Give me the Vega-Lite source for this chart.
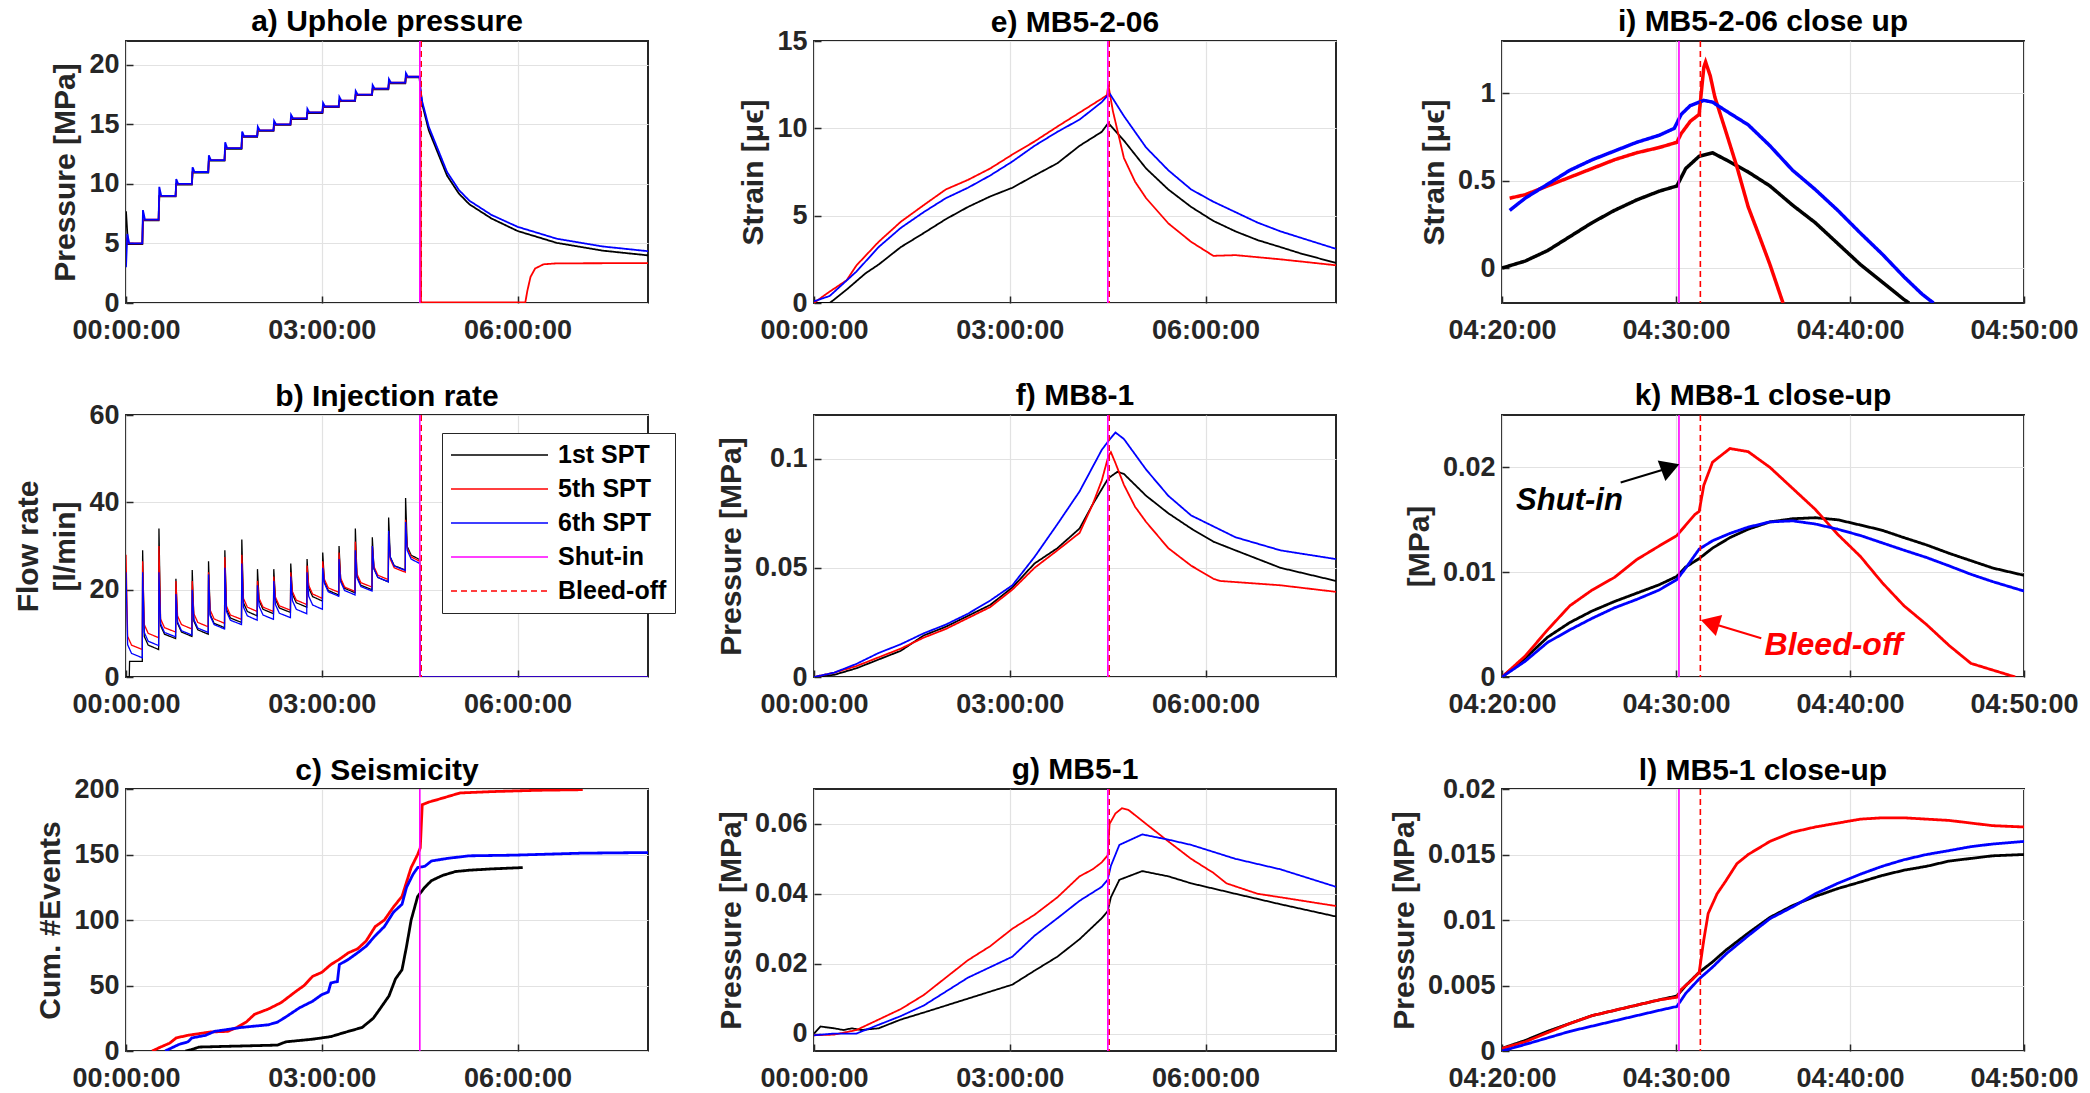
{
"$schema": "https://vega.github.io/schema/vega-lite/v6.json",
"padding": {"left": 12, "top": 6, "right": 0, "bottom": 0},
"background": "#ffffff",
"bounds": "flush",
"columns": 3,
"spacing": {"row": 112, "column": 166},
"resolve": {"scale": {"color": "independent", "strokeDash": "independent"}, "legend": {"color": "independent", "strokeDash": "independent"}},
"config": {
  "font": "Liberation Sans",
  "view": {"stroke": "#262626", "strokeWidth": 2},
  "axis": {"labelFont": "Liberation Sans", "labelFontSize": 27, "labelFontWeight": "bold", "labelColor": "#262626", "titleFont": "Liberation Sans", "titleFontSize": 30, "titleFontWeight": "bold", "titleColor": "#262626", "grid": true, "gridColor": "#e2e2e2", "gridWidth": 1.2, "domain": false, "ticks": true, "tickSize": -7, "tickColor": "#262626", "tickWidth": 1.5, "labelFlush": false, "labelOverlap": false, "titlePadding": 8, "format": "~r"},
  "axisX": {"labelPadding": 21},
  "axisY": {"labelPadding": 14},
  "title": {"font": "Liberation Sans", "fontSize": 30, "fontWeight": "bold", "color": "#000000", "offset": 3, "frame": "group"}
},
"datasets": {
"a": [
{"t":0,"v":7.7,"s":"1st SPT"},{"t":0.03,"v":4.95,"s":"1st SPT"},{"t":0.25,"v":4.95,"s":"1st SPT"},{"t":0.26,"v":6.95,"s":"1st SPT"},{"t":0.5,"v":6.95,"s":"1st SPT"},{"t":0.51,"v":8.95,"s":"1st SPT"},{"t":0.76,"v":8.95,"s":"1st SPT"},{"t":0.77,"v":9.95,"s":"1st SPT"},{"t":1.01,"v":9.95,"s":"1st SPT"},{"t":1.02,"v":10.95,"s":"1st SPT"},{"t":1.26,"v":10.95,"s":"1st SPT"},{"t":1.27,"v":11.95,"s":"1st SPT"},{"t":1.51,"v":11.95,"s":"1st SPT"},{"t":1.52,"v":12.95,"s":"1st SPT"},{"t":1.77,"v":12.95,"s":"1st SPT"},{"t":1.78,"v":13.95,"s":"1st SPT"},{"t":2.01,"v":13.95,"s":"1st SPT"},{"t":2.02,"v":14.45,"s":"1st SPT"},{"t":2.26,"v":14.45,"s":"1st SPT"},{"t":2.27,"v":14.95,"s":"1st SPT"},{"t":2.52,"v":14.95,"s":"1st SPT"},{"t":2.53,"v":15.45,"s":"1st SPT"},{"t":2.77,"v":15.45,"s":"1st SPT"},{"t":2.78,"v":15.95,"s":"1st SPT"},{"t":3.01,"v":15.95,"s":"1st SPT"},{"t":3.02,"v":16.45,"s":"1st SPT"},{"t":3.26,"v":16.45,"s":"1st SPT"},{"t":3.27,"v":16.95,"s":"1st SPT"},{"t":3.51,"v":16.95,"s":"1st SPT"},{"t":3.52,"v":17.45,"s":"1st SPT"},{"t":3.77,"v":17.45,"s":"1st SPT"},{"t":3.78,"v":17.95,"s":"1st SPT"},{"t":4.02,"v":17.95,"s":"1st SPT"},{"t":4.03,"v":18.45,"s":"1st SPT"},{"t":4.28,"v":18.45,"s":"1st SPT"},{"t":4.29,"v":18.95,"s":"1st SPT"},{"t":4.5,"v":18.95,"s":"1st SPT"},{"t":4.51,"v":18.0,"s":"1st SPT"},{"t":4.54,"v":16.7,"s":"1st SPT"},{"t":4.64,"v":14.5,"s":"1st SPT"},{"t":4.78,"v":12.6,"s":"1st SPT"},{"t":4.92,"v":10.7,"s":"1st SPT"},{"t":5.1,"v":9.2,"s":"1st SPT"},{"t":5.26,"v":8.3,"s":"1st SPT"},{"t":5.6,"v":7.1,"s":"1st SPT"},{"t":6.0,"v":6.05,"s":"1st SPT"},{"t":6.6,"v":5.05,"s":"1st SPT"},{"t":7.3,"v":4.4,"s":"1st SPT"},{"t":8.0,"v":4.0,"s":"1st SPT"},
{"t":0,"v":5.5,"s":"5th SPT"},{"t":0.03,"v":5.0,"s":"5th SPT"},{"t":0.25,"v":5.0,"s":"5th SPT"},{"t":0.26,"v":7.0,"s":"5th SPT"},{"t":0.5,"v":7.0,"s":"5th SPT"},{"t":0.51,"v":9.0,"s":"5th SPT"},{"t":0.76,"v":9.0,"s":"5th SPT"},{"t":0.77,"v":10.0,"s":"5th SPT"},{"t":1.01,"v":10.0,"s":"5th SPT"},{"t":1.02,"v":11.0,"s":"5th SPT"},{"t":1.26,"v":11.0,"s":"5th SPT"},{"t":1.27,"v":12.0,"s":"5th SPT"},{"t":1.51,"v":12.0,"s":"5th SPT"},{"t":1.52,"v":13.0,"s":"5th SPT"},{"t":1.77,"v":13.0,"s":"5th SPT"},{"t":1.78,"v":14.0,"s":"5th SPT"},{"t":2.01,"v":14.0,"s":"5th SPT"},{"t":2.02,"v":14.5,"s":"5th SPT"},{"t":2.26,"v":14.5,"s":"5th SPT"},{"t":2.27,"v":15.0,"s":"5th SPT"},{"t":2.52,"v":15.0,"s":"5th SPT"},{"t":2.53,"v":15.5,"s":"5th SPT"},{"t":2.77,"v":15.5,"s":"5th SPT"},{"t":2.78,"v":16.0,"s":"5th SPT"},{"t":3.01,"v":16.0,"s":"5th SPT"},{"t":3.02,"v":16.5,"s":"5th SPT"},{"t":3.26,"v":16.5,"s":"5th SPT"},{"t":3.27,"v":17.0,"s":"5th SPT"},{"t":3.51,"v":17.0,"s":"5th SPT"},{"t":3.52,"v":17.5,"s":"5th SPT"},{"t":3.77,"v":17.5,"s":"5th SPT"},{"t":3.78,"v":18.0,"s":"5th SPT"},{"t":4.02,"v":18.0,"s":"5th SPT"},{"t":4.03,"v":18.5,"s":"5th SPT"},{"t":4.28,"v":18.5,"s":"5th SPT"},{"t":4.29,"v":19.0,"s":"5th SPT"},{"t":4.51,"v":19.0,"s":"5th SPT"},{"t":4.52,"v":0.05,"s":"5th SPT"},{"t":6.12,"v":0.05,"s":"5th SPT"},{"t":6.15,"v":1.0,"s":"5th SPT"},{"t":6.2,"v":2.2,"s":"5th SPT"},{"t":6.27,"v":2.9,"s":"5th SPT"},{"t":6.4,"v":3.25,"s":"5th SPT"},{"t":6.6,"v":3.33,"s":"5th SPT"},{"t":8.0,"v":3.35,"s":"5th SPT"},
{"t":0,"v":3.0,"s":"6th SPT"},{"t":0.02,"v":5.8,"s":"6th SPT"},{"t":0.05,"v":5.0,"s":"6th SPT"},{"t":0.25,"v":5.0,"s":"6th SPT"},{"t":0.26,"v":7.8,"s":"6th SPT"},{"t":0.29,"v":7.0,"s":"6th SPT"},{"t":0.5,"v":7.0,"s":"6th SPT"},{"t":0.51,"v":9.75,"s":"6th SPT"},{"t":0.54,"v":9.0,"s":"6th SPT"},{"t":0.76,"v":9.0,"s":"6th SPT"},{"t":0.77,"v":10.4,"s":"6th SPT"},{"t":0.8,"v":10.0,"s":"6th SPT"},{"t":1.01,"v":10.0,"s":"6th SPT"},{"t":1.02,"v":11.4,"s":"6th SPT"},{"t":1.05,"v":11.0,"s":"6th SPT"},{"t":1.26,"v":11.0,"s":"6th SPT"},{"t":1.27,"v":12.4,"s":"6th SPT"},{"t":1.3,"v":12.0,"s":"6th SPT"},{"t":1.51,"v":12.0,"s":"6th SPT"},{"t":1.52,"v":13.5,"s":"6th SPT"},{"t":1.55,"v":13.0,"s":"6th SPT"},{"t":1.77,"v":13.0,"s":"6th SPT"},{"t":1.78,"v":14.4,"s":"6th SPT"},{"t":1.81,"v":14.0,"s":"6th SPT"},{"t":2.01,"v":14.0,"s":"6th SPT"},{"t":2.02,"v":14.8,"s":"6th SPT"},{"t":2.05,"v":14.5,"s":"6th SPT"},{"t":2.26,"v":14.5,"s":"6th SPT"},{"t":2.27,"v":15.3,"s":"6th SPT"},{"t":2.3,"v":15.0,"s":"6th SPT"},{"t":2.52,"v":15.0,"s":"6th SPT"},{"t":2.53,"v":15.8,"s":"6th SPT"},{"t":2.56,"v":15.5,"s":"6th SPT"},{"t":2.77,"v":15.5,"s":"6th SPT"},{"t":2.78,"v":16.3,"s":"6th SPT"},{"t":2.81,"v":16.0,"s":"6th SPT"},{"t":3.01,"v":16.0,"s":"6th SPT"},{"t":3.02,"v":16.8,"s":"6th SPT"},{"t":3.05,"v":16.5,"s":"6th SPT"},{"t":3.26,"v":16.5,"s":"6th SPT"},{"t":3.27,"v":17.3,"s":"6th SPT"},{"t":3.3,"v":17.0,"s":"6th SPT"},{"t":3.51,"v":17.0,"s":"6th SPT"},{"t":3.52,"v":17.8,"s":"6th SPT"},{"t":3.55,"v":17.5,"s":"6th SPT"},{"t":3.77,"v":17.5,"s":"6th SPT"},{"t":3.78,"v":18.3,"s":"6th SPT"},{"t":3.81,"v":18.0,"s":"6th SPT"},{"t":4.02,"v":18.0,"s":"6th SPT"},{"t":4.03,"v":18.8,"s":"6th SPT"},{"t":4.06,"v":18.5,"s":"6th SPT"},{"t":4.28,"v":18.5,"s":"6th SPT"},{"t":4.29,"v":19.3,"s":"6th SPT"},{"t":4.32,"v":19.0,"s":"6th SPT"},{"t":4.5,"v":19.0,"s":"6th SPT"},{"t":4.51,"v":18.0,"s":"6th SPT"},{"t":4.54,"v":16.9,"s":"6th SPT"},{"t":4.64,"v":14.8,"s":"6th SPT"},{"t":4.78,"v":12.9,"s":"6th SPT"},{"t":4.92,"v":11.0,"s":"6th SPT"},{"t":5.1,"v":9.5,"s":"6th SPT"},{"t":5.26,"v":8.6,"s":"6th SPT"},{"t":5.6,"v":7.4,"s":"6th SPT"},{"t":6.0,"v":6.4,"s":"6th SPT"},{"t":6.6,"v":5.4,"s":"6th SPT"},{"t":7.3,"v":4.75,"s":"6th SPT"},{"t":8.0,"v":4.35,"s":"6th SPT"}
],
"b": [
{"t":0,"v":0,"s":"1st SPT"},{"t":0.05,"v":0,"s":"1st SPT"},{"t":0.055,"v":3.6,"s":"1st SPT"},{"t":0.25,"v":3.6,"s":"1st SPT"},
{"t":0.255,"v":29,"s":"1st SPT"},{"t":0.28,"v":9.3,"s":"1st SPT"},{"t":0.34,"v":7.3,"s":"1st SPT"},{"t":0.5,"v":6.3,"s":"1st SPT"},
{"t":0.505,"v":34,"s":"1st SPT"},{"t":0.53,"v":11.8,"s":"1st SPT"},{"t":0.59,"v":9.8,"s":"1st SPT"},{"t":0.76,"v":8.8,"s":"1st SPT"},
{"t":0.765,"v":22.5,"s":"1st SPT"},{"t":0.79,"v":12.3,"s":"1st SPT"},{"t":0.85,"v":10.3,"s":"1st SPT"},{"t":1.01,"v":9.3,"s":"1st SPT"},
{"t":1.015,"v":24.5,"s":"1st SPT"},{"t":1.04,"v":12.8,"s":"1st SPT"},{"t":1.1,"v":10.8,"s":"1st SPT"},{"t":1.26,"v":9.8,"s":"1st SPT"},
{"t":1.265,"v":26.5,"s":"1st SPT"},{"t":1.29,"v":14.3,"s":"1st SPT"},{"t":1.35,"v":12.3,"s":"1st SPT"},{"t":1.51,"v":11.3,"s":"1st SPT"},
{"t":1.515,"v":29,"s":"1st SPT"},{"t":1.54,"v":15.5,"s":"1st SPT"},{"t":1.6,"v":13.5,"s":"1st SPT"},{"t":1.77,"v":12.5,"s":"1st SPT"},
{"t":1.775,"v":31.5,"s":"1st SPT"},{"t":1.8,"v":17,"s":"1st SPT"},{"t":1.86,"v":15,"s":"1st SPT"},{"t":2.01,"v":14.0,"s":"1st SPT"},
{"t":2.015,"v":24.7,"s":"1st SPT"},{"t":2.04,"v":17.5,"s":"1st SPT"},{"t":2.1,"v":15.5,"s":"1st SPT"},{"t":2.26,"v":14.5,"s":"1st SPT"},
{"t":2.265,"v":24.7,"s":"1st SPT"},{"t":2.29,"v":17.8,"s":"1st SPT"},{"t":2.35,"v":15.8,"s":"1st SPT"},{"t":2.52,"v":14.8,"s":"1st SPT"},
{"t":2.525,"v":26,"s":"1st SPT"},{"t":2.55,"v":19,"s":"1st SPT"},{"t":2.61,"v":17,"s":"1st SPT"},{"t":2.77,"v":16.0,"s":"1st SPT"},
{"t":2.775,"v":27,"s":"1st SPT"},{"t":2.8,"v":20.4,"s":"1st SPT"},{"t":2.86,"v":18.4,"s":"1st SPT"},{"t":3.01,"v":17.4,"s":"1st SPT"},
{"t":3.015,"v":28.5,"s":"1st SPT"},{"t":3.04,"v":21.8,"s":"1st SPT"},{"t":3.1,"v":19.8,"s":"1st SPT"},{"t":3.26,"v":18.8,"s":"1st SPT"},
{"t":3.265,"v":30,"s":"1st SPT"},{"t":3.29,"v":22.3,"s":"1st SPT"},{"t":3.35,"v":20.3,"s":"1st SPT"},{"t":3.51,"v":19.3,"s":"1st SPT"},
{"t":3.515,"v":34,"s":"1st SPT"},{"t":3.54,"v":23,"s":"1st SPT"},{"t":3.6,"v":21,"s":"1st SPT"},{"t":3.77,"v":20.0,"s":"1st SPT"},
{"t":3.775,"v":32,"s":"1st SPT"},{"t":3.8,"v":24.8,"s":"1st SPT"},{"t":3.86,"v":22.8,"s":"1st SPT"},{"t":4.02,"v":21.8,"s":"1st SPT"},
{"t":4.025,"v":36.5,"s":"1st SPT"},{"t":4.05,"v":27.5,"s":"1st SPT"},{"t":4.11,"v":25.5,"s":"1st SPT"},{"t":4.28,"v":24.5,"s":"1st SPT"},
{"t":4.285,"v":41,"s":"1st SPT"},{"t":4.31,"v":29.9,"s":"1st SPT"},{"t":4.37,"v":27.9,"s":"1st SPT"},{"t":4.5,"v":26.9,"s":"1st SPT"},
{"t":4.505,"v":0,"s":"1st SPT"},{"t":8,"v":0,"s":"1st SPT"},
{"t":0,"v":28,"s":"5th SPT"},{"t":0.025,"v":9.3,"s":"5th SPT"},{"t":0.085,"v":7.3,"s":"5th SPT"},{"t":0.25,"v":6.3,"s":"5th SPT"},
{"t":0.255,"v":26.5,"s":"5th SPT"},{"t":0.28,"v":12,"s":"5th SPT"},{"t":0.34,"v":10,"s":"5th SPT"},{"t":0.5,"v":9.0,"s":"5th SPT"},
{"t":0.505,"v":30,"s":"5th SPT"},{"t":0.53,"v":13.3,"s":"5th SPT"},{"t":0.59,"v":11.3,"s":"5th SPT"},{"t":0.76,"v":10.3,"s":"5th SPT"},
{"t":0.765,"v":22,"s":"5th SPT"},{"t":0.79,"v":14,"s":"5th SPT"},{"t":0.85,"v":12,"s":"5th SPT"},{"t":1.01,"v":11.0,"s":"5th SPT"},
{"t":1.015,"v":22,"s":"5th SPT"},{"t":1.04,"v":14.5,"s":"5th SPT"},{"t":1.1,"v":12.5,"s":"5th SPT"},{"t":1.26,"v":11.5,"s":"5th SPT"},
{"t":1.265,"v":24,"s":"5th SPT"},{"t":1.29,"v":15.3,"s":"5th SPT"},{"t":1.35,"v":13.3,"s":"5th SPT"},{"t":1.51,"v":12.3,"s":"5th SPT"},
{"t":1.515,"v":27.5,"s":"5th SPT"},{"t":1.54,"v":16.2,"s":"5th SPT"},{"t":1.6,"v":14.2,"s":"5th SPT"},{"t":1.77,"v":13.2,"s":"5th SPT"},
{"t":1.775,"v":28,"s":"5th SPT"},{"t":1.8,"v":18,"s":"5th SPT"},{"t":1.86,"v":16,"s":"5th SPT"},{"t":2.01,"v":15.0,"s":"5th SPT"},
{"t":2.015,"v":22,"s":"5th SPT"},{"t":2.04,"v":18,"s":"5th SPT"},{"t":2.1,"v":16,"s":"5th SPT"},{"t":2.26,"v":15.0,"s":"5th SPT"},
{"t":2.265,"v":23,"s":"5th SPT"},{"t":2.29,"v":18.3,"s":"5th SPT"},{"t":2.35,"v":16.3,"s":"5th SPT"},{"t":2.52,"v":15.3,"s":"5th SPT"},
{"t":2.525,"v":24,"s":"5th SPT"},{"t":2.55,"v":19.6,"s":"5th SPT"},{"t":2.61,"v":17.6,"s":"5th SPT"},{"t":2.77,"v":16.6,"s":"5th SPT"},
{"t":2.775,"v":25.5,"s":"5th SPT"},{"t":2.8,"v":21,"s":"5th SPT"},{"t":2.86,"v":19,"s":"5th SPT"},{"t":3.01,"v":18.0,"s":"5th SPT"},
{"t":3.015,"v":26.5,"s":"5th SPT"},{"t":3.04,"v":22.4,"s":"5th SPT"},{"t":3.1,"v":20.4,"s":"5th SPT"},{"t":3.26,"v":19.4,"s":"5th SPT"},
{"t":3.265,"v":28.5,"s":"5th SPT"},{"t":3.29,"v":22.6,"s":"5th SPT"},{"t":3.35,"v":20.6,"s":"5th SPT"},{"t":3.51,"v":19.6,"s":"5th SPT"},
{"t":3.515,"v":31,"s":"5th SPT"},{"t":3.54,"v":23.6,"s":"5th SPT"},{"t":3.6,"v":21.6,"s":"5th SPT"},{"t":3.77,"v":20.6,"s":"5th SPT"},
{"t":3.775,"v":30,"s":"5th SPT"},{"t":3.8,"v":25.3,"s":"5th SPT"},{"t":3.86,"v":23.3,"s":"5th SPT"},{"t":4.02,"v":22.3,"s":"5th SPT"},
{"t":4.025,"v":33,"s":"5th SPT"},{"t":4.05,"v":27,"s":"5th SPT"},{"t":4.11,"v":25,"s":"5th SPT"},{"t":4.28,"v":24.0,"s":"5th SPT"},
{"t":4.285,"v":36,"s":"5th SPT"},{"t":4.31,"v":29.5,"s":"5th SPT"},{"t":4.37,"v":27.5,"s":"5th SPT"},{"t":4.5,"v":26.5,"s":"5th SPT"},
{"t":4.505,"v":0,"s":"5th SPT"},{"t":8,"v":0,"s":"5th SPT"},
{"t":0,"v":24,"s":"6th SPT"},{"t":0.025,"v":7.4,"s":"6th SPT"},{"t":0.085,"v":5.4,"s":"6th SPT"},{"t":0.25,"v":4.4,"s":"6th SPT"},
{"t":0.255,"v":24,"s":"6th SPT"},{"t":0.28,"v":10.2,"s":"6th SPT"},{"t":0.34,"v":8.2,"s":"6th SPT"},{"t":0.5,"v":7.2,"s":"6th SPT"},
{"t":0.505,"v":24,"s":"6th SPT"},{"t":0.53,"v":12.2,"s":"6th SPT"},{"t":0.59,"v":10.2,"s":"6th SPT"},{"t":0.76,"v":9.2,"s":"6th SPT"},
{"t":0.765,"v":19,"s":"6th SPT"},{"t":0.79,"v":12.6,"s":"6th SPT"},{"t":0.85,"v":10.6,"s":"6th SPT"},{"t":1.01,"v":9.6,"s":"6th SPT"},
{"t":1.015,"v":20,"s":"6th SPT"},{"t":1.04,"v":13.2,"s":"6th SPT"},{"t":1.1,"v":11.2,"s":"6th SPT"},{"t":1.26,"v":10.2,"s":"6th SPT"},
{"t":1.265,"v":23.5,"s":"6th SPT"},{"t":1.29,"v":14,"s":"6th SPT"},{"t":1.35,"v":12,"s":"6th SPT"},{"t":1.51,"v":11.0,"s":"6th SPT"},
{"t":1.515,"v":25,"s":"6th SPT"},{"t":1.54,"v":15,"s":"6th SPT"},{"t":1.6,"v":13,"s":"6th SPT"},{"t":1.77,"v":12.0,"s":"6th SPT"},
{"t":1.775,"v":26,"s":"6th SPT"},{"t":1.8,"v":16,"s":"6th SPT"},{"t":1.86,"v":14,"s":"6th SPT"},{"t":2.01,"v":13.0,"s":"6th SPT"},
{"t":2.015,"v":21,"s":"6th SPT"},{"t":2.04,"v":16.2,"s":"6th SPT"},{"t":2.1,"v":14.2,"s":"6th SPT"},{"t":2.26,"v":13.2,"s":"6th SPT"},
{"t":2.265,"v":22,"s":"6th SPT"},{"t":2.29,"v":16.6,"s":"6th SPT"},{"t":2.35,"v":14.6,"s":"6th SPT"},{"t":2.52,"v":13.6,"s":"6th SPT"},
{"t":2.525,"v":23,"s":"6th SPT"},{"t":2.55,"v":17.5,"s":"6th SPT"},{"t":2.61,"v":15.5,"s":"6th SPT"},{"t":2.77,"v":14.5,"s":"6th SPT"},
{"t":2.775,"v":24,"s":"6th SPT"},{"t":2.8,"v":18.5,"s":"6th SPT"},{"t":2.86,"v":16.5,"s":"6th SPT"},{"t":3.01,"v":15.5,"s":"6th SPT"},
{"t":3.015,"v":25,"s":"6th SPT"},{"t":3.04,"v":21.5,"s":"6th SPT"},{"t":3.1,"v":19.5,"s":"6th SPT"},{"t":3.26,"v":18.5,"s":"6th SPT"},
{"t":3.265,"v":27,"s":"6th SPT"},{"t":3.29,"v":21.8,"s":"6th SPT"},{"t":3.35,"v":19.8,"s":"6th SPT"},{"t":3.51,"v":18.8,"s":"6th SPT"},
{"t":3.515,"v":29,"s":"6th SPT"},{"t":3.54,"v":22.7,"s":"6th SPT"},{"t":3.6,"v":20.7,"s":"6th SPT"},{"t":3.77,"v":19.7,"s":"6th SPT"},
{"t":3.775,"v":30,"s":"6th SPT"},{"t":3.8,"v":24.8,"s":"6th SPT"},{"t":3.86,"v":22.8,"s":"6th SPT"},{"t":4.02,"v":21.8,"s":"6th SPT"},
{"t":4.025,"v":33.5,"s":"6th SPT"},{"t":4.05,"v":27.4,"s":"6th SPT"},{"t":4.11,"v":25.4,"s":"6th SPT"},{"t":4.28,"v":24.4,"s":"6th SPT"},
{"t":4.285,"v":35.5,"s":"6th SPT"},{"t":4.31,"v":29,"s":"6th SPT"},{"t":4.37,"v":27,"s":"6th SPT"},{"t":4.5,"v":26.0,"s":"6th SPT"},
{"t":4.505,"v":0,"s":"6th SPT"},{"t":8,"v":0,"s":"6th SPT"}
],
"c": [
{"t":0.91,"v":0,"s":"1st SPT"},{"t":1.0,"v":1,"s":"1st SPT"},{"t":1.12,"v":3,"s":"1st SPT"},{"t":1.5,"v":3.5,"s":"1st SPT"},{"t":2.32,"v":4.5,"s":"1st SPT"},{"t":2.45,"v":7,"s":"1st SPT"},{"t":2.86,"v":9,"s":"1st SPT"},{"t":3.14,"v":11,"s":"1st SPT"},{"t":3.34,"v":14,"s":"1st SPT"},{"t":3.48,"v":16,"s":"1st SPT"},{"t":3.62,"v":18,"s":"1st SPT"},{"t":3.79,"v":25,"s":"1st SPT"},{"t":3.89,"v":32,"s":"1st SPT"},{"t":4.03,"v":42,"s":"1st SPT"},{"t":4.13,"v":55,"s":"1st SPT"},{"t":4.23,"v":62,"s":"1st SPT"},{"t":4.3,"v":80,"s":"1st SPT"},{"t":4.37,"v":100,"s":"1st SPT"},{"t":4.47,"v":118,"s":"1st SPT"},{"t":4.58,"v":125,"s":"1st SPT"},{"t":4.68,"v":130,"s":"1st SPT"},{"t":4.85,"v":134,"s":"1st SPT"},{"t":5.05,"v":137,"s":"1st SPT"},{"t":5.26,"v":138,"s":"1st SPT"},{"t":5.6,"v":139,"s":"1st SPT"},{"t":6.08,"v":140,"s":"1st SPT"},
{"t":0.4,"v":0,"s":"5th SPT"},{"t":0.53,"v":3,"s":"5th SPT"},{"t":0.67,"v":6,"s":"5th SPT"},{"t":0.77,"v":10,"s":"5th SPT"},{"t":0.95,"v":12,"s":"5th SPT"},{"t":1.29,"v":14.5,"s":"5th SPT"},{"t":1.56,"v":15,"s":"5th SPT"},{"t":1.7,"v":18,"s":"5th SPT"},{"t":1.84,"v":22,"s":"5th SPT"},{"t":1.97,"v":28,"s":"5th SPT"},{"t":2.18,"v":32,"s":"5th SPT"},{"t":2.38,"v":37,"s":"5th SPT"},{"t":2.59,"v":45,"s":"5th SPT"},{"t":2.73,"v":50,"s":"5th SPT"},{"t":2.86,"v":57,"s":"5th SPT"},{"t":3.0,"v":60,"s":"5th SPT"},{"t":3.14,"v":66,"s":"5th SPT"},{"t":3.27,"v":70,"s":"5th SPT"},{"t":3.41,"v":75,"s":"5th SPT"},{"t":3.55,"v":78,"s":"5th SPT"},{"t":3.68,"v":84,"s":"5th SPT"},{"t":3.82,"v":95,"s":"5th SPT"},{"t":3.96,"v":100,"s":"5th SPT"},{"t":4.1,"v":110,"s":"5th SPT"},{"t":4.23,"v":118,"s":"5th SPT"},{"t":4.37,"v":140,"s":"5th SPT"},{"t":4.47,"v":150,"s":"5th SPT"},{"t":4.51,"v":155,"s":"5th SPT"},{"t":4.54,"v":188,"s":"5th SPT"},{"t":4.64,"v":190,"s":"5th SPT"},{"t":4.85,"v":193,"s":"5th SPT"},{"t":5.12,"v":197,"s":"5th SPT"},{"t":5.6,"v":198,"s":"5th SPT"},{"t":6.29,"v":199,"s":"5th SPT"},{"t":7.0,"v":199.5,"s":"5th SPT"},
{"t":0.6,"v":0,"s":"6th SPT"},{"t":0.81,"v":5,"s":"6th SPT"},{"t":0.95,"v":7,"s":"6th SPT"},{"t":1.01,"v":10,"s":"6th SPT"},{"t":1.22,"v":12,"s":"6th SPT"},{"t":1.36,"v":15,"s":"6th SPT"},{"t":1.77,"v":18,"s":"6th SPT"},{"t":2.18,"v":20,"s":"6th SPT"},{"t":2.32,"v":22,"s":"6th SPT"},{"t":2.45,"v":26,"s":"6th SPT"},{"t":2.66,"v":33,"s":"6th SPT"},{"t":2.86,"v":38,"s":"6th SPT"},{"t":3.0,"v":43,"s":"6th SPT"},{"t":3.1,"v":45,"s":"6th SPT"},{"t":3.14,"v":52,"s":"6th SPT"},{"t":3.24,"v":53,"s":"6th SPT"},{"t":3.27,"v":66,"s":"6th SPT"},{"t":3.41,"v":70,"s":"6th SPT"},{"t":3.55,"v":75,"s":"6th SPT"},{"t":3.68,"v":80,"s":"6th SPT"},{"t":3.82,"v":88,"s":"6th SPT"},{"t":3.96,"v":95,"s":"6th SPT"},{"t":4.1,"v":106,"s":"6th SPT"},{"t":4.23,"v":112,"s":"6th SPT"},{"t":4.3,"v":125,"s":"6th SPT"},{"t":4.4,"v":135,"s":"6th SPT"},{"t":4.47,"v":140,"s":"6th SPT"},{"t":4.58,"v":141,"s":"6th SPT"},{"t":4.68,"v":145,"s":"6th SPT"},{"t":4.92,"v":147,"s":"6th SPT"},{"t":5.26,"v":149,"s":"6th SPT"},{"t":5.95,"v":149.5,"s":"6th SPT"},{"t":6.97,"v":151,"s":"6th SPT"},{"t":8.0,"v":151.5,"s":"6th SPT"}
],
"e": [
{"t":0,"v":0,"s":"1st SPT"},{"t":0.24,"v":0,"s":"1st SPT"},{"t":0.31,"v":0.2,"s":"1st SPT"},{"t":0.51,"v":0.8,"s":"1st SPT"},{"t":0.79,"v":1.7,"s":"1st SPT"},{"t":0.99,"v":2.2,"s":"1st SPT"},{"t":1.33,"v":3.2,"s":"1st SPT"},{"t":1.68,"v":4.0,"s":"1st SPT"},{"t":2.02,"v":4.8,"s":"1st SPT"},{"t":2.36,"v":5.5,"s":"1st SPT"},{"t":2.7,"v":6.1,"s":"1st SPT"},{"t":3.04,"v":6.6,"s":"1st SPT"},{"t":3.38,"v":7.3,"s":"1st SPT"},{"t":3.73,"v":8.0,"s":"1st SPT"},{"t":4.07,"v":9.0,"s":"1st SPT"},{"t":4.41,"v":9.8,"s":"1st SPT"},{"t":4.51,"v":10.3,"s":"1st SPT"},{"t":4.75,"v":9.3,"s":"1st SPT"},{"t":5.09,"v":7.7,"s":"1st SPT"},{"t":5.43,"v":6.5,"s":"1st SPT"},{"t":5.78,"v":5.5,"s":"1st SPT"},{"t":6.12,"v":4.7,"s":"1st SPT"},{"t":6.46,"v":4.1,"s":"1st SPT"},{"t":6.8,"v":3.6,"s":"1st SPT"},{"t":7.15,"v":3.2,"s":"1st SPT"},{"t":7.49,"v":2.8,"s":"1st SPT"},{"t":8,"v":2.3,"s":"1st SPT"},
{"t":0,"v":0,"s":"5th SPT"},{"t":0.2,"v":0.55,"s":"5th SPT"},{"t":0.5,"v":1.3,"s":"5th SPT"},{"t":0.65,"v":2.15,"s":"5th SPT"},{"t":0.99,"v":3.5,"s":"5th SPT"},{"t":1.33,"v":4.65,"s":"5th SPT"},{"t":1.68,"v":5.6,"s":"5th SPT"},{"t":2.02,"v":6.5,"s":"5th SPT"},{"t":2.36,"v":7.05,"s":"5th SPT"},{"t":2.7,"v":7.7,"s":"5th SPT"},{"t":3.04,"v":8.5,"s":"5th SPT"},{"t":3.38,"v":9.25,"s":"5th SPT"},{"t":3.73,"v":10.1,"s":"5th SPT"},{"t":4.07,"v":10.9,"s":"5th SPT"},{"t":4.41,"v":11.7,"s":"5th SPT"},{"t":4.49,"v":11.9,"s":"5th SPT"},{"t":4.51,"v":12.5,"s":"5th SPT"},{"t":4.58,"v":11.0,"s":"5th SPT"},{"t":4.75,"v":8.3,"s":"5th SPT"},{"t":4.92,"v":6.95,"s":"5th SPT"},{"t":5.09,"v":6.0,"s":"5th SPT"},{"t":5.43,"v":4.56,"s":"5th SPT"},{"t":5.78,"v":3.5,"s":"5th SPT"},{"t":6.12,"v":2.7,"s":"5th SPT"},{"t":6.46,"v":2.74,"s":"5th SPT"},{"t":7.15,"v":2.5,"s":"5th SPT"},{"t":8,"v":2.16,"s":"5th SPT"},
{"t":0,"v":0.1,"s":"6th SPT"},{"t":0.24,"v":0.4,"s":"6th SPT"},{"t":0.65,"v":1.8,"s":"6th SPT"},{"t":0.99,"v":3.2,"s":"6th SPT"},{"t":1.33,"v":4.3,"s":"6th SPT"},{"t":1.68,"v":5.2,"s":"6th SPT"},{"t":2.02,"v":6.0,"s":"6th SPT"},{"t":2.36,"v":6.6,"s":"6th SPT"},{"t":2.7,"v":7.3,"s":"6th SPT"},{"t":3.04,"v":8.1,"s":"6th SPT"},{"t":3.38,"v":9.0,"s":"6th SPT"},{"t":3.73,"v":9.8,"s":"6th SPT"},{"t":4.07,"v":10.5,"s":"6th SPT"},{"t":4.41,"v":11.5,"s":"6th SPT"},{"t":4.53,"v":12.0,"s":"6th SPT"},{"t":4.75,"v":10.7,"s":"6th SPT"},{"t":5.09,"v":8.9,"s":"6th SPT"},{"t":5.43,"v":7.6,"s":"6th SPT"},{"t":5.78,"v":6.5,"s":"6th SPT"},{"t":6.12,"v":5.8,"s":"6th SPT"},{"t":6.46,"v":5.2,"s":"6th SPT"},{"t":6.8,"v":4.6,"s":"6th SPT"},{"t":7.15,"v":4.1,"s":"6th SPT"},{"t":7.49,"v":3.7,"s":"6th SPT"},{"t":8,"v":3.1,"s":"6th SPT"}
],
"f": [
{"t":0,"v":0,"s":"1st SPT"},{"t":0.31,"v":0.001,"s":"1st SPT"},{"t":0.65,"v":0.004,"s":"1st SPT"},{"t":0.99,"v":0.008,"s":"1st SPT"},{"t":1.33,"v":0.012,"s":"1st SPT"},{"t":1.68,"v":0.019,"s":"1st SPT"},{"t":2.02,"v":0.023,"s":"1st SPT"},{"t":2.36,"v":0.028,"s":"1st SPT"},{"t":2.7,"v":0.033,"s":"1st SPT"},{"t":3.04,"v":0.041,"s":"1st SPT"},{"t":3.38,"v":0.052,"s":"1st SPT"},{"t":3.73,"v":0.059,"s":"1st SPT"},{"t":4.07,"v":0.068,"s":"1st SPT"},{"t":4.27,"v":0.079,"s":"1st SPT"},{"t":4.41,"v":0.086,"s":"1st SPT"},{"t":4.51,"v":0.091,"s":"1st SPT"},{"t":4.65,"v":0.094,"s":"1st SPT"},{"t":4.75,"v":0.093,"s":"1st SPT"},{"t":5.09,"v":0.083,"s":"1st SPT"},{"t":5.43,"v":0.075,"s":"1st SPT"},{"t":5.78,"v":0.068,"s":"1st SPT"},{"t":6.12,"v":0.062,"s":"1st SPT"},{"t":6.46,"v":0.058,"s":"1st SPT"},{"t":7.15,"v":0.05,"s":"1st SPT"},{"t":8,"v":0.044,"s":"1st SPT"},
{"t":0,"v":0,"s":"5th SPT"},{"t":0.31,"v":0.002,"s":"5th SPT"},{"t":0.65,"v":0.005,"s":"5th SPT"},{"t":0.99,"v":0.009,"s":"5th SPT"},{"t":1.33,"v":0.013,"s":"5th SPT"},{"t":1.68,"v":0.018,"s":"5th SPT"},{"t":2.02,"v":0.022,"s":"5th SPT"},{"t":2.36,"v":0.027,"s":"5th SPT"},{"t":2.7,"v":0.032,"s":"5th SPT"},{"t":3.04,"v":0.04,"s":"5th SPT"},{"t":3.38,"v":0.05,"s":"5th SPT"},{"t":3.73,"v":0.058,"s":"5th SPT"},{"t":4.07,"v":0.066,"s":"5th SPT"},{"t":4.27,"v":0.079,"s":"5th SPT"},{"t":4.41,"v":0.09,"s":"5th SPT"},{"t":4.51,"v":0.101,"s":"5th SPT"},{"t":4.55,"v":0.103,"s":"5th SPT"},{"t":4.62,"v":0.098,"s":"5th SPT"},{"t":4.75,"v":0.088,"s":"5th SPT"},{"t":4.92,"v":0.078,"s":"5th SPT"},{"t":5.09,"v":0.071,"s":"5th SPT"},{"t":5.43,"v":0.059,"s":"5th SPT"},{"t":5.78,"v":0.051,"s":"5th SPT"},{"t":6.12,"v":0.045,"s":"5th SPT"},{"t":6.22,"v":0.044,"s":"5th SPT"},{"t":7.15,"v":0.042,"s":"5th SPT"},{"t":8,"v":0.039,"s":"5th SPT"},
{"t":0,"v":0,"s":"6th SPT"},{"t":0.31,"v":0.002,"s":"6th SPT"},{"t":0.65,"v":0.006,"s":"6th SPT"},{"t":0.99,"v":0.011,"s":"6th SPT"},{"t":1.33,"v":0.015,"s":"6th SPT"},{"t":1.68,"v":0.02,"s":"6th SPT"},{"t":2.02,"v":0.024,"s":"6th SPT"},{"t":2.36,"v":0.029,"s":"6th SPT"},{"t":2.7,"v":0.035,"s":"6th SPT"},{"t":3.04,"v":0.042,"s":"6th SPT"},{"t":3.38,"v":0.055,"s":"6th SPT"},{"t":3.73,"v":0.07,"s":"6th SPT"},{"t":4.07,"v":0.085,"s":"6th SPT"},{"t":4.41,"v":0.104,"s":"6th SPT"},{"t":4.51,"v":0.108,"s":"6th SPT"},{"t":4.62,"v":0.112,"s":"6th SPT"},{"t":4.75,"v":0.109,"s":"6th SPT"},{"t":5.09,"v":0.095,"s":"6th SPT"},{"t":5.43,"v":0.083,"s":"6th SPT"},{"t":5.78,"v":0.074,"s":"6th SPT"},{"t":6.12,"v":0.069,"s":"6th SPT"},{"t":6.46,"v":0.064,"s":"6th SPT"},{"t":7.15,"v":0.058,"s":"6th SPT"},{"t":8,"v":0.054,"s":"6th SPT"}
],
"g": [
{"t":0,"v":0,"s":"1st SPT"},{"t":0.1,"v":0.002,"s":"1st SPT"},{"t":0.31,"v":0.0015,"s":"1st SPT"},{"t":0.45,"v":0.001,"s":"1st SPT"},{"t":0.58,"v":0.0015,"s":"1st SPT"},{"t":0.72,"v":0.001,"s":"1st SPT"},{"t":0.99,"v":0.0015,"s":"1st SPT"},{"t":1.33,"v":0.004,"s":"1st SPT"},{"t":1.68,"v":0.006,"s":"1st SPT"},{"t":2.02,"v":0.008,"s":"1st SPT"},{"t":2.36,"v":0.01,"s":"1st SPT"},{"t":2.7,"v":0.012,"s":"1st SPT"},{"t":3.04,"v":0.014,"s":"1st SPT"},{"t":3.38,"v":0.018,"s":"1st SPT"},{"t":3.73,"v":0.022,"s":"1st SPT"},{"t":4.07,"v":0.027,"s":"1st SPT"},{"t":4.41,"v":0.033,"s":"1st SPT"},{"t":4.5,"v":0.035,"s":"1st SPT"},{"t":4.55,"v":0.039,"s":"1st SPT"},{"t":4.68,"v":0.044,"s":"1st SPT"},{"t":5.03,"v":0.0465,"s":"1st SPT"},{"t":5.43,"v":0.045,"s":"1st SPT"},{"t":5.78,"v":0.043,"s":"1st SPT"},{"t":6.46,"v":0.04,"s":"1st SPT"},{"t":7.15,"v":0.037,"s":"1st SPT"},{"t":8,"v":0.0335,"s":"1st SPT"},
{"t":0,"v":-0.0005,"s":"5th SPT"},{"t":0.31,"v":-0.0003,"s":"5th SPT"},{"t":0.65,"v":0.001,"s":"5th SPT"},{"t":0.99,"v":0.004,"s":"5th SPT"},{"t":1.33,"v":0.007,"s":"5th SPT"},{"t":1.68,"v":0.011,"s":"5th SPT"},{"t":2.02,"v":0.016,"s":"5th SPT"},{"t":2.36,"v":0.021,"s":"5th SPT"},{"t":2.7,"v":0.025,"s":"5th SPT"},{"t":3.04,"v":0.03,"s":"5th SPT"},{"t":3.38,"v":0.034,"s":"5th SPT"},{"t":3.73,"v":0.039,"s":"5th SPT"},{"t":4.07,"v":0.045,"s":"5th SPT"},{"t":4.27,"v":0.047,"s":"5th SPT"},{"t":4.41,"v":0.049,"s":"5th SPT"},{"t":4.5,"v":0.051,"s":"5th SPT"},{"t":4.53,"v":0.06,"s":"5th SPT"},{"t":4.62,"v":0.063,"s":"5th SPT"},{"t":4.72,"v":0.0645,"s":"5th SPT"},{"t":4.82,"v":0.064,"s":"5th SPT"},{"t":5.09,"v":0.06,"s":"5th SPT"},{"t":5.43,"v":0.055,"s":"5th SPT"},{"t":5.78,"v":0.05,"s":"5th SPT"},{"t":6.12,"v":0.046,"s":"5th SPT"},{"t":6.32,"v":0.043,"s":"5th SPT"},{"t":6.8,"v":0.04,"s":"5th SPT"},{"t":7.15,"v":0.039,"s":"5th SPT"},{"t":8,"v":0.0365,"s":"5th SPT"},
{"t":0,"v":-0.0005,"s":"6th SPT"},{"t":0.31,"v":0,"s":"6th SPT"},{"t":0.65,"v":0,"s":"6th SPT"},{"t":0.99,"v":0.0025,"s":"6th SPT"},{"t":1.33,"v":0.005,"s":"6th SPT"},{"t":1.68,"v":0.008,"s":"6th SPT"},{"t":2.02,"v":0.012,"s":"6th SPT"},{"t":2.36,"v":0.016,"s":"6th SPT"},{"t":2.7,"v":0.019,"s":"6th SPT"},{"t":3.04,"v":0.022,"s":"6th SPT"},{"t":3.38,"v":0.028,"s":"6th SPT"},{"t":3.73,"v":0.033,"s":"6th SPT"},{"t":4.07,"v":0.038,"s":"6th SPT"},{"t":4.41,"v":0.042,"s":"6th SPT"},{"t":4.5,"v":0.044,"s":"6th SPT"},{"t":4.55,"v":0.048,"s":"6th SPT"},{"t":4.68,"v":0.054,"s":"6th SPT"},{"t":5.03,"v":0.057,"s":"6th SPT"},{"t":5.43,"v":0.0555,"s":"6th SPT"},{"t":5.78,"v":0.054,"s":"6th SPT"},{"t":6.12,"v":0.052,"s":"6th SPT"},{"t":6.46,"v":0.05,"s":"6th SPT"},{"t":7.15,"v":0.047,"s":"6th SPT"},{"t":8,"v":0.042,"s":"6th SPT"}
],
"i": [
{"t":0,"v":0,"s":"1st SPT"},{"t":1.33,"v":0.04,"s":"1st SPT"},{"t":2.62,"v":0.1,"s":"1st SPT"},{"t":3.9,"v":0.18,"s":"1st SPT"},{"t":5.18,"v":0.26,"s":"1st SPT"},{"t":6.46,"v":0.33,"s":"1st SPT"},{"t":7.74,"v":0.39,"s":"1st SPT"},{"t":9.03,"v":0.44,"s":"1st SPT"},{"t":10.05,"v":0.47,"s":"1st SPT"},{"t":10.56,"v":0.57,"s":"1st SPT"},{"t":11.33,"v":0.64,"s":"1st SPT"},{"t":12.1,"v":0.66,"s":"1st SPT"},{"t":12.87,"v":0.62,"s":"1st SPT"},{"t":14.15,"v":0.55,"s":"1st SPT"},{"t":15.4,"v":0.47,"s":"1st SPT"},{"t":16.7,"v":0.36,"s":"1st SPT"},{"t":18,"v":0.26,"s":"1st SPT"},{"t":19.3,"v":0.14,"s":"1st SPT"},{"t":20.6,"v":0.02,"s":"1st SPT"},{"t":21.85,"v":-0.08,"s":"1st SPT"},{"t":23.1,"v":-0.18,"s":"1st SPT"},{"t":23.4,"v":-0.2,"s":"1st SPT"},
{"t":0.44,"v":0.4,"s":"5th SPT"},{"t":1.33,"v":0.42,"s":"5th SPT"},{"t":2.62,"v":0.47,"s":"5th SPT"},{"t":3.9,"v":0.52,"s":"5th SPT"},{"t":5.18,"v":0.57,"s":"5th SPT"},{"t":6.46,"v":0.62,"s":"5th SPT"},{"t":7.74,"v":0.66,"s":"5th SPT"},{"t":9.03,"v":0.69,"s":"5th SPT"},{"t":10.05,"v":0.72,"s":"5th SPT"},{"t":10.3,"v":0.77,"s":"5th SPT"},{"t":10.82,"v":0.84,"s":"5th SPT"},{"t":11.33,"v":0.88,"s":"5th SPT"},{"t":11.6,"v":1.15,"s":"5th SPT"},{"t":11.7,"v":1.18,"s":"5th SPT"},{"t":11.97,"v":1.1,"s":"5th SPT"},{"t":12.23,"v":0.98,"s":"5th SPT"},{"t":12.87,"v":0.78,"s":"5th SPT"},{"t":13.5,"v":0.58,"s":"5th SPT"},{"t":14.15,"v":0.35,"s":"5th SPT"},{"t":14.8,"v":0.18,"s":"5th SPT"},{"t":15.4,"v":0.02,"s":"5th SPT"},{"t":16.15,"v":-0.2,"s":"5th SPT"},
{"t":0.44,"v":0.33,"s":"6th SPT"},{"t":1.33,"v":0.4,"s":"6th SPT"},{"t":2.62,"v":0.48,"s":"6th SPT"},{"t":3.9,"v":0.56,"s":"6th SPT"},{"t":5.18,"v":0.62,"s":"6th SPT"},{"t":6.46,"v":0.67,"s":"6th SPT"},{"t":7.74,"v":0.72,"s":"6th SPT"},{"t":9.03,"v":0.76,"s":"6th SPT"},{"t":9.9,"v":0.8,"s":"6th SPT"},{"t":10.3,"v":0.88,"s":"6th SPT"},{"t":10.82,"v":0.93,"s":"6th SPT"},{"t":11.6,"v":0.96,"s":"6th SPT"},{"t":12.1,"v":0.95,"s":"6th SPT"},{"t":12.87,"v":0.9,"s":"6th SPT"},{"t":14.15,"v":0.82,"s":"6th SPT"},{"t":15.4,"v":0.7,"s":"6th SPT"},{"t":16.7,"v":0.56,"s":"6th SPT"},{"t":18,"v":0.45,"s":"6th SPT"},{"t":19.3,"v":0.33,"s":"6th SPT"},{"t":20.6,"v":0.2,"s":"6th SPT"},{"t":21.85,"v":0.08,"s":"6th SPT"},{"t":23.1,"v":-0.05,"s":"6th SPT"},{"t":24.15,"v":-0.15,"s":"6th SPT"},{"t":24.8,"v":-0.2,"s":"6th SPT"}
],
"k": [
{"t":0,"v":0,"s":"1st SPT"},{"t":1.33,"v":0.0018,"s":"1st SPT"},{"t":2.62,"v":0.0038,"s":"1st SPT"},{"t":3.9,"v":0.0052,"s":"1st SPT"},{"t":5.18,"v":0.0063,"s":"1st SPT"},{"t":6.46,"v":0.0072,"s":"1st SPT"},{"t":7.74,"v":0.008,"s":"1st SPT"},{"t":9.03,"v":0.0088,"s":"1st SPT"},{"t":10.05,"v":0.0096,"s":"1st SPT"},{"t":10.56,"v":0.0105,"s":"1st SPT"},{"t":11.33,"v":0.0113,"s":"1st SPT"},{"t":12.1,"v":0.0123,"s":"1st SPT"},{"t":13.1,"v":0.0133,"s":"1st SPT"},{"t":14.15,"v":0.0141,"s":"1st SPT"},{"t":15.4,"v":0.0148,"s":"1st SPT"},{"t":16.7,"v":0.0151,"s":"1st SPT"},{"t":18,"v":0.0152,"s":"1st SPT"},{"t":19.3,"v":0.015,"s":"1st SPT"},{"t":20.6,"v":0.0145,"s":"1st SPT"},{"t":21.85,"v":0.014,"s":"1st SPT"},{"t":23.1,"v":0.0133,"s":"1st SPT"},{"t":24.4,"v":0.0126,"s":"1st SPT"},{"t":25.7,"v":0.0118,"s":"1st SPT"},{"t":26.95,"v":0.0111,"s":"1st SPT"},{"t":28.2,"v":0.0104,"s":"1st SPT"},{"t":30,"v":0.0097,"s":"1st SPT"},
{"t":0,"v":0,"s":"5th SPT"},{"t":1.33,"v":0.002,"s":"5th SPT"},{"t":2.62,"v":0.0045,"s":"5th SPT"},{"t":3.9,"v":0.0068,"s":"5th SPT"},{"t":5.18,"v":0.0083,"s":"5th SPT"},{"t":6.46,"v":0.0095,"s":"5th SPT"},{"t":7.74,"v":0.0112,"s":"5th SPT"},{"t":9.03,"v":0.0125,"s":"5th SPT"},{"t":10.05,"v":0.0135,"s":"5th SPT"},{"t":11.08,"v":0.0155,"s":"5th SPT"},{"t":11.33,"v":0.0158,"s":"5th SPT"},{"t":11.6,"v":0.0183,"s":"5th SPT"},{"t":12.1,"v":0.0205,"s":"5th SPT"},{"t":13.1,"v":0.0218,"s":"5th SPT"},{"t":14.15,"v":0.0215,"s":"5th SPT"},{"t":15.4,"v":0.02,"s":"5th SPT"},{"t":16.7,"v":0.018,"s":"5th SPT"},{"t":18,"v":0.016,"s":"5th SPT"},{"t":19.3,"v":0.0136,"s":"5th SPT"},{"t":20.6,"v":0.0115,"s":"5th SPT"},{"t":21.85,"v":0.009,"s":"5th SPT"},{"t":23.1,"v":0.0068,"s":"5th SPT"},{"t":24.4,"v":0.005,"s":"5th SPT"},{"t":25.7,"v":0.003,"s":"5th SPT"},{"t":26.95,"v":0.0013,"s":"5th SPT"},{"t":29.5,"v":0,"s":"5th SPT"},
{"t":0,"v":0,"s":"6th SPT"},{"t":1.33,"v":0.0015,"s":"6th SPT"},{"t":2.62,"v":0.0033,"s":"6th SPT"},{"t":3.9,"v":0.0045,"s":"6th SPT"},{"t":5.18,"v":0.0056,"s":"6th SPT"},{"t":6.46,"v":0.0066,"s":"6th SPT"},{"t":7.74,"v":0.0074,"s":"6th SPT"},{"t":9.03,"v":0.0083,"s":"6th SPT"},{"t":10.05,"v":0.0093,"s":"6th SPT"},{"t":10.56,"v":0.0104,"s":"6th SPT"},{"t":11.33,"v":0.0122,"s":"6th SPT"},{"t":12.1,"v":0.013,"s":"6th SPT"},{"t":13.1,"v":0.0137,"s":"6th SPT"},{"t":14.15,"v":0.0143,"s":"6th SPT"},{"t":15.4,"v":0.0148,"s":"6th SPT"},{"t":16.7,"v":0.0149,"s":"6th SPT"},{"t":18,"v":0.0146,"s":"6th SPT"},{"t":19.3,"v":0.0141,"s":"6th SPT"},{"t":20.6,"v":0.0135,"s":"6th SPT"},{"t":21.85,"v":0.0128,"s":"6th SPT"},{"t":23.1,"v":0.0121,"s":"6th SPT"},{"t":24.4,"v":0.0114,"s":"6th SPT"},{"t":25.7,"v":0.0106,"s":"6th SPT"},{"t":26.95,"v":0.0098,"s":"6th SPT"},{"t":28.2,"v":0.0091,"s":"6th SPT"},{"t":30,"v":0.0082,"s":"6th SPT"}
],
"l": [
{"t":0,"v":0.0002,"s":"1st SPT"},{"t":1.33,"v":0.0008,"s":"1st SPT"},{"t":2.62,"v":0.0015,"s":"1st SPT"},{"t":3.9,"v":0.0021,"s":"1st SPT"},{"t":5.18,"v":0.0027,"s":"1st SPT"},{"t":6.46,"v":0.0031,"s":"1st SPT"},{"t":7.74,"v":0.0035,"s":"1st SPT"},{"t":9.03,"v":0.0039,"s":"1st SPT"},{"t":10.05,"v":0.0042,"s":"1st SPT"},{"t":10.56,"v":0.005,"s":"1st SPT"},{"t":11.33,"v":0.006,"s":"1st SPT"},{"t":12.1,"v":0.0068,"s":"1st SPT"},{"t":12.87,"v":0.0077,"s":"1st SPT"},{"t":14.15,"v":0.009,"s":"1st SPT"},{"t":15.4,"v":0.0102,"s":"1st SPT"},{"t":16.7,"v":0.0111,"s":"1st SPT"},{"t":18,"v":0.0118,"s":"1st SPT"},{"t":19.3,"v":0.0124,"s":"1st SPT"},{"t":20.6,"v":0.0129,"s":"1st SPT"},{"t":21.85,"v":0.0134,"s":"1st SPT"},{"t":23.1,"v":0.0138,"s":"1st SPT"},{"t":24.4,"v":0.0141,"s":"1st SPT"},{"t":25.7,"v":0.0145,"s":"1st SPT"},{"t":26.95,"v":0.0147,"s":"1st SPT"},{"t":28.2,"v":0.0149,"s":"1st SPT"},{"t":30,"v":0.015,"s":"1st SPT"},
{"t":0,"v":0.0002,"s":"5th SPT"},{"t":1.33,"v":0.0007,"s":"5th SPT"},{"t":2.62,"v":0.0014,"s":"5th SPT"},{"t":3.9,"v":0.0021,"s":"5th SPT"},{"t":5.18,"v":0.0027,"s":"5th SPT"},{"t":6.46,"v":0.0031,"s":"5th SPT"},{"t":7.74,"v":0.0035,"s":"5th SPT"},{"t":9.03,"v":0.0039,"s":"5th SPT"},{"t":10.05,"v":0.0041,"s":"5th SPT"},{"t":10.3,"v":0.0047,"s":"5th SPT"},{"t":10.82,"v":0.0053,"s":"5th SPT"},{"t":11.33,"v":0.006,"s":"5th SPT"},{"t":11.6,"v":0.0085,"s":"5th SPT"},{"t":11.85,"v":0.0105,"s":"5th SPT"},{"t":12.36,"v":0.012,"s":"5th SPT"},{"t":12.87,"v":0.013,"s":"5th SPT"},{"t":13.5,"v":0.0143,"s":"5th SPT"},{"t":14.15,"v":0.015,"s":"5th SPT"},{"t":15.4,"v":0.016,"s":"5th SPT"},{"t":16.7,"v":0.0167,"s":"5th SPT"},{"t":18,"v":0.0171,"s":"5th SPT"},{"t":19.3,"v":0.0174,"s":"5th SPT"},{"t":20.6,"v":0.0177,"s":"5th SPT"},{"t":21.85,"v":0.0178,"s":"5th SPT"},{"t":23.1,"v":0.0178,"s":"5th SPT"},{"t":24.4,"v":0.0177,"s":"5th SPT"},{"t":25.7,"v":0.0176,"s":"5th SPT"},{"t":26.95,"v":0.0174,"s":"5th SPT"},{"t":28.2,"v":0.0172,"s":"5th SPT"},{"t":30,"v":0.0171,"s":"5th SPT"},
{"t":0,"v":0,"s":"6th SPT"},{"t":1.33,"v":0.0005,"s":"6th SPT"},{"t":2.62,"v":0.001,"s":"6th SPT"},{"t":3.9,"v":0.0015,"s":"6th SPT"},{"t":5.18,"v":0.0019,"s":"6th SPT"},{"t":6.46,"v":0.0023,"s":"6th SPT"},{"t":7.74,"v":0.0027,"s":"6th SPT"},{"t":9.03,"v":0.0031,"s":"6th SPT"},{"t":10.05,"v":0.0034,"s":"6th SPT"},{"t":10.56,"v":0.0044,"s":"6th SPT"},{"t":11.33,"v":0.0055,"s":"6th SPT"},{"t":12.1,"v":0.0064,"s":"6th SPT"},{"t":12.87,"v":0.0074,"s":"6th SPT"},{"t":14.15,"v":0.0088,"s":"6th SPT"},{"t":15.4,"v":0.0101,"s":"6th SPT"},{"t":16.7,"v":0.011,"s":"6th SPT"},{"t":18,"v":0.012,"s":"6th SPT"},{"t":19.3,"v":0.0128,"s":"6th SPT"},{"t":20.6,"v":0.0135,"s":"6th SPT"},{"t":21.85,"v":0.0141,"s":"6th SPT"},{"t":23.1,"v":0.0146,"s":"6th SPT"},{"t":24.4,"v":0.015,"s":"6th SPT"},{"t":25.7,"v":0.0153,"s":"6th SPT"},{"t":26.95,"v":0.0156,"s":"6th SPT"},{"t":28.2,"v":0.0158,"s":"6th SPT"},{"t":30,"v":0.016,"s":"6th SPT"}
],
"vh": [{"t":4.524,"s":"Bleed-off"},{"t":4.503,"s":"Shut-in"}],
"vc": [{"t":4.503,"s":"Shut-in"}],
"vm": [{"t":11.4,"s":"Bleed-off"},{"t":10.17,"s":"Shut-in"}],
"kt1": [{"t":0.81,"v":0.01677,"label":"Shut-in"}],
"kt2": [{"t":15.09,"v":0.00304,"label":"Bleed-off"}],
"ka1": [{"t":6.82,"v":0.01856,"t2":9.68,"v2":0.01999}],
"ka2": [{"t":14.9,"v":0.0037,"t2":11.95,"v2":0.00517}]
},
"concat": [
{"title": {"text": "a) Uphole pressure"}, "width": 522, "height": 262, "layer": [
 {"data": {"name": "a"}, "mark": {"type": "line", "strokeWidth": 1.8, "clip": true}, "encoding": {
  "x": {"field": "t", "type": "quantitative", "scale": {"domain": [0, 8], "nice": false}, "axis": {"values": [0, 3, 6], "labelExpr": "'0' + datum.value + ':00:00'", "title": null}},
  "y": {"field": "v", "type": "quantitative", "scale": {"domain": [0, 22], "nice": false}, "axis": {"values": [0, 5, 10, 15, 20], "title": "Pressure [MPa]"}},
  "color": {"field": "s", "type": "nominal", "scale": {"domain": ["1st SPT","5th SPT","6th SPT","Shut-in","Bleed-off"], "range": ["#000000","#ff0000","#0000ff","#ff00ff","#ff0000"]}, "legend": null},
  "strokeDash": {"field": "s", "type": "nominal", "scale": {"domain": ["1st SPT","5th SPT","6th SPT","Shut-in","Bleed-off"], "range": [[1,0],[1,0],[1,0],[1,0],[6,4]]}, "legend": null}}},
 {"data": {"name": "vh"}, "mark": {"type": "rule", "strokeWidth": 1.6}, "encoding": {
  "x": {"field": "t", "type": "quantitative"},
  "color": {"field": "s", "type": "nominal", "scale": {"domain": ["1st SPT","5th SPT","6th SPT","Shut-in","Bleed-off"], "range": ["#000000","#ff0000","#0000ff","#ff00ff","#ff0000"]}, "legend": null},
  "strokeDash": {"field": "s", "type": "nominal", "scale": {"domain": ["1st SPT","5th SPT","6th SPT","Shut-in","Bleed-off"], "range": [[1,0],[1,0],[1,0],[1,0],[6,4]]}, "legend": null}}}
]},
{"title": {"text": "e) MB5-2-06", "offset": -11}, "width": 522, "height": 262, "layer": [
 {"data": {"name": "e"}, "mark": {"type": "line", "strokeWidth": 1.8, "clip": true}, "encoding": {
  "x": {"field": "t", "type": "quantitative", "scale": {"domain": [0, 8], "nice": false}, "axis": {"values": [0, 3, 6], "labelExpr": "'0' + datum.value + ':00:00'", "title": null}},
  "y": {"field": "v", "type": "quantitative", "scale": {"domain": [0, 15], "nice": false}, "axis": {"values": [0, 5, 10, 15], "title": "Strain [μϵ]"}},
  "color": {"field": "s", "type": "nominal", "scale": {"domain": ["1st SPT","5th SPT","6th SPT","Shut-in","Bleed-off"], "range": ["#000000","#ff0000","#0000ff","#ff00ff","#ff0000"]}, "legend": null},
  "strokeDash": {"field": "s", "type": "nominal", "scale": {"domain": ["1st SPT","5th SPT","6th SPT","Shut-in","Bleed-off"], "range": [[1,0],[1,0],[1,0],[1,0],[6,4]]}, "legend": null}}},
 {"data": {"name": "vh"}, "mark": {"type": "rule", "strokeWidth": 1.6}, "encoding": {
  "x": {"field": "t", "type": "quantitative"},
  "color": {"field": "s", "type": "nominal", "scale": {"domain": ["1st SPT","5th SPT","6th SPT","Shut-in","Bleed-off"], "range": ["#000000","#ff0000","#0000ff","#ff00ff","#ff0000"]}, "legend": null},
  "strokeDash": {"field": "s", "type": "nominal", "scale": {"domain": ["1st SPT","5th SPT","6th SPT","Shut-in","Bleed-off"], "range": [[1,0],[1,0],[1,0],[1,0],[6,4]]}, "legend": null}}}
]},
{"title": {"text": "i) MB5-2-06 close up"}, "width": 522, "height": 262, "layer": [
 {"data": {"name": "i"}, "mark": {"type": "line", "strokeWidth": 3.5, "clip": true}, "encoding": {
  "x": {"field": "t", "type": "quantitative", "scale": {"domain": [0, 30], "nice": false}, "axis": {"values": [0, 10, 20, 30], "labelExpr": "'04:' + (20 + datum.value) + ':00'", "title": null}},
  "y": {"field": "v", "type": "quantitative", "scale": {"domain": [-0.2, 1.3], "nice": false, "zero": false}, "axis": {"values": [0, 0.5, 1], "title": "Strain [μϵ]"}},
  "color": {"field": "s", "type": "nominal", "scale": {"domain": ["1st SPT","5th SPT","6th SPT","Shut-in","Bleed-off"], "range": ["#000000","#ff0000","#0000ff","#ff00ff","#ff0000"]}, "legend": null},
  "strokeDash": {"field": "s", "type": "nominal", "scale": {"domain": ["1st SPT","5th SPT","6th SPT","Shut-in","Bleed-off"], "range": [[1,0],[1,0],[1,0],[1,0],[6,4]]}, "legend": null}}},
 {"data": {"name": "vm"}, "mark": {"type": "rule", "strokeWidth": 1.6}, "encoding": {
  "x": {"field": "t", "type": "quantitative"},
  "color": {"field": "s", "type": "nominal", "scale": {"domain": ["1st SPT","5th SPT","6th SPT","Shut-in","Bleed-off"], "range": ["#000000","#ff0000","#0000ff","#ff00ff","#ff0000"]}, "legend": null},
  "strokeDash": {"field": "s", "type": "nominal", "scale": {"domain": ["1st SPT","5th SPT","6th SPT","Shut-in","Bleed-off"], "range": [[1,0],[1,0],[1,0],[1,0],[6,4]]}, "legend": null}}}
]},
{"title": {"text": "b) Injection rate", "offset": -11}, "width": 522, "height": 262, "layer": [
 {"data": {"name": "b"}, "mark": {"type": "line", "strokeWidth": 1.3, "clip": true}, "encoding": {
  "x": {"field": "t", "type": "quantitative", "scale": {"domain": [0, 8], "nice": false}, "axis": {"values": [0, 3, 6], "labelExpr": "'0' + datum.value + ':00:00'", "title": null}},
  "y": {"field": "v", "type": "quantitative", "scale": {"domain": [0, 60], "nice": false}, "axis": {"values": [0, 20, 40, 60], "title": ["Flow rate", "[l/min]"], "titleLineHeight": 37}},
  "color": {"field": "s", "type": "nominal", "scale": {"domain": ["1st SPT","5th SPT","6th SPT","Shut-in","Bleed-off"], "range": ["#000000","#ff0000","#0000ff","#ff00ff","#ff0000"]}, "legend": {"title": null, "orient": "none", "legendX": 316, "legendY": 18, "symbolType": "stroke", "symbolSize": 9409, "symbolStrokeWidth": 1.5, "clipHeight": 28, "labelFont": "Liberation Sans", "labelFontSize": 25, "labelFontWeight": "bold", "labelColor": "#000000", "labelLimit": 300, "labelOffset": 9, "strokeColor": "#262626", "fillColor": "#ffffff", "padding": 8, "rowPadding": 6}},
  "strokeDash": {"field": "s", "type": "nominal", "scale": {"domain": ["1st SPT","5th SPT","6th SPT","Shut-in","Bleed-off"], "range": [[1,0],[1,0],[1,0],[1,0],[6,4]]}, "legend": {"title": null, "orient": "none", "legendX": 316, "legendY": 18, "symbolType": "stroke", "symbolSize": 9409, "symbolStrokeWidth": 1.5, "clipHeight": 28, "labelFont": "Liberation Sans", "labelFontSize": 25, "labelFontWeight": "bold", "labelColor": "#000000", "labelLimit": 300, "labelOffset": 9, "strokeColor": "#262626", "fillColor": "#ffffff", "padding": 8, "rowPadding": 6}}}},
 {"data": {"name": "vh"}, "mark": {"type": "rule", "strokeWidth": 1.6}, "encoding": {
  "x": {"field": "t", "type": "quantitative"},
  "color": {"field": "s", "type": "nominal", "scale": {"domain": ["1st SPT","5th SPT","6th SPT","Shut-in","Bleed-off"], "range": ["#000000","#ff0000","#0000ff","#ff00ff","#ff0000"]}},
  "strokeDash": {"field": "s", "type": "nominal", "scale": {"domain": ["1st SPT","5th SPT","6th SPT","Shut-in","Bleed-off"], "range": [[1,0],[1,0],[1,0],[1,0],[6,4]]}}}}
]},
{"title": {"text": "f) MB8-1"}, "width": 522, "height": 262, "layer": [
 {"data": {"name": "f"}, "mark": {"type": "line", "strokeWidth": 1.8, "clip": true}, "encoding": {
  "x": {"field": "t", "type": "quantitative", "scale": {"domain": [0, 8], "nice": false}, "axis": {"values": [0, 3, 6], "labelExpr": "'0' + datum.value + ':00:00'", "title": null}},
  "y": {"field": "v", "type": "quantitative", "scale": {"domain": [0, 0.12], "nice": false}, "axis": {"values": [0, 0.05, 0.1], "title": "Pressure [MPa]"}},
  "color": {"field": "s", "type": "nominal", "scale": {"domain": ["1st SPT","5th SPT","6th SPT","Shut-in","Bleed-off"], "range": ["#000000","#ff0000","#0000ff","#ff00ff","#ff0000"]}, "legend": null},
  "strokeDash": {"field": "s", "type": "nominal", "scale": {"domain": ["1st SPT","5th SPT","6th SPT","Shut-in","Bleed-off"], "range": [[1,0],[1,0],[1,0],[1,0],[6,4]]}, "legend": null}}},
 {"data": {"name": "vh"}, "mark": {"type": "rule", "strokeWidth": 1.6}, "encoding": {
  "x": {"field": "t", "type": "quantitative"},
  "color": {"field": "s", "type": "nominal", "scale": {"domain": ["1st SPT","5th SPT","6th SPT","Shut-in","Bleed-off"], "range": ["#000000","#ff0000","#0000ff","#ff00ff","#ff0000"]}, "legend": null},
  "strokeDash": {"field": "s", "type": "nominal", "scale": {"domain": ["1st SPT","5th SPT","6th SPT","Shut-in","Bleed-off"], "range": [[1,0],[1,0],[1,0],[1,0],[6,4]]}, "legend": null}}}
]},
{"title": {"text": "k) MB8-1 close-up"}, "width": 522, "height": 262, "layer": [
 {"data": {"name": "k"}, "mark": {"type": "line", "strokeWidth": 2.8, "clip": true}, "encoding": {
  "x": {"field": "t", "type": "quantitative", "scale": {"domain": [0, 30], "nice": false}, "axis": {"values": [0, 10, 20, 30], "labelExpr": "'04:' + (20 + datum.value) + ':00'", "title": null}},
  "y": {"field": "v", "type": "quantitative", "scale": {"domain": [0, 0.025], "nice": false}, "axis": {"values": [0, 0.01, 0.02], "title": "[MPa]"}},
  "color": {"field": "s", "type": "nominal", "scale": {"domain": ["1st SPT","5th SPT","6th SPT","Shut-in","Bleed-off"], "range": ["#000000","#ff0000","#0000ff","#ff00ff","#ff0000"]}, "legend": null},
  "strokeDash": {"field": "s", "type": "nominal", "scale": {"domain": ["1st SPT","5th SPT","6th SPT","Shut-in","Bleed-off"], "range": [[1,0],[1,0],[1,0],[1,0],[6,4]]}, "legend": null}}},
 {"data": {"name": "vm"}, "mark": {"type": "rule", "strokeWidth": 1.6}, "encoding": {
  "x": {"field": "t", "type": "quantitative"},
  "color": {"field": "s", "type": "nominal", "scale": {"domain": ["1st SPT","5th SPT","6th SPT","Shut-in","Bleed-off"], "range": ["#000000","#ff0000","#0000ff","#ff00ff","#ff0000"]}, "legend": null},
  "strokeDash": {"field": "s", "type": "nominal", "scale": {"domain": ["1st SPT","5th SPT","6th SPT","Shut-in","Bleed-off"], "range": [[1,0],[1,0],[1,0],[1,0],[6,4]]}, "legend": null}}},
 {"data": {"name": "ka1"}, "mark": {"type": "rule", "strokeWidth": 2, "color": "#000000"}, "encoding": {
  "x": {"field": "t", "type": "quantitative"}, "y": {"field": "v", "type": "quantitative"}, "x2": {"field": "t2"}, "y2": {"field": "v2"}}},
 {"data": {"name": "ka1"}, "mark": {"type": "point", "shape": "triangle-right", "filled": true, "opacity": 1, "size": 480, "angle": 339.5, "color": "#000000"}, "encoding": {
  "x": {"field": "t2", "type": "quantitative"}, "y": {"field": "v2", "type": "quantitative"}}},
 {"data": {"name": "ka2"}, "mark": {"type": "rule", "strokeWidth": 2, "color": "#ff0000"}, "encoding": {
  "x": {"field": "t", "type": "quantitative"}, "y": {"field": "v", "type": "quantitative"}, "x2": {"field": "t2"}, "y2": {"field": "v2"}}},
 {"data": {"name": "ka2"}, "mark": {"type": "point", "shape": "triangle-right", "filled": true, "opacity": 1, "size": 480, "angle": 196.7, "color": "#ff0000"}, "encoding": {
  "x": {"field": "t2", "type": "quantitative"}, "y": {"field": "v2", "type": "quantitative"}}},
 {"data": {"name": "kt1"}, "mark": {"type": "text", "align": "left", "baseline": "middle", "font": "Liberation Sans", "fontSize": 31, "fontWeight": "bold", "fontStyle": "italic", "color": "#000000"}, "encoding": {
  "x": {"field": "t", "type": "quantitative"}, "y": {"field": "v", "type": "quantitative"}, "text": {"field": "label"}}},
 {"data": {"name": "kt2"}, "mark": {"type": "text", "align": "left", "baseline": "middle", "font": "Liberation Sans", "fontSize": 32, "fontWeight": "bold", "fontStyle": "italic", "color": "#ff0000"}, "encoding": {
  "x": {"field": "t", "type": "quantitative"}, "y": {"field": "v", "type": "quantitative"}, "text": {"field": "label"}}}
]},
{"title": {"text": "c) Seismicity", "offset": -11}, "width": 522, "height": 262, "layer": [
 {"data": {"name": "c"}, "mark": {"type": "line", "strokeWidth": 2.8, "clip": true}, "encoding": {
  "x": {"field": "t", "type": "quantitative", "scale": {"domain": [0, 8], "nice": false}, "axis": {"values": [0, 3, 6], "labelExpr": "'0' + datum.value + ':00:00'", "title": null}},
  "y": {"field": "v", "type": "quantitative", "scale": {"domain": [0, 200], "nice": false}, "axis": {"values": [0, 50, 100, 150, 200], "title": "Cum. #Events"}},
  "color": {"field": "s", "type": "nominal", "scale": {"domain": ["1st SPT","5th SPT","6th SPT","Shut-in","Bleed-off"], "range": ["#000000","#ff0000","#0000ff","#ff00ff","#ff0000"]}, "legend": null},
  "strokeDash": {"field": "s", "type": "nominal", "scale": {"domain": ["1st SPT","5th SPT","6th SPT","Shut-in","Bleed-off"], "range": [[1,0],[1,0],[1,0],[1,0],[6,4]]}, "legend": null}}},
 {"data": {"name": "vc"}, "mark": {"type": "rule", "strokeWidth": 1.6}, "encoding": {
  "x": {"field": "t", "type": "quantitative"},
  "color": {"field": "s", "type": "nominal", "scale": {"domain": ["1st SPT","5th SPT","6th SPT","Shut-in","Bleed-off"], "range": ["#000000","#ff0000","#0000ff","#ff00ff","#ff0000"]}, "legend": null},
  "strokeDash": {"field": "s", "type": "nominal", "scale": {"domain": ["1st SPT","5th SPT","6th SPT","Shut-in","Bleed-off"], "range": [[1,0],[1,0],[1,0],[1,0],[6,4]]}, "legend": null}}}
]},
{"title": {"text": "g) MB5-1"}, "width": 522, "height": 262, "layer": [
 {"data": {"name": "g"}, "mark": {"type": "line", "strokeWidth": 1.8, "clip": true}, "encoding": {
  "x": {"field": "t", "type": "quantitative", "scale": {"domain": [0, 8], "nice": false}, "axis": {"values": [0, 3, 6], "labelExpr": "'0' + datum.value + ':00:00'", "title": null}},
  "y": {"field": "v", "type": "quantitative", "scale": {"domain": [-0.005, 0.07], "nice": false, "zero": false}, "axis": {"values": [0, 0.02, 0.04, 0.06], "title": "Pressure [MPa]"}},
  "color": {"field": "s", "type": "nominal", "scale": {"domain": ["1st SPT","5th SPT","6th SPT","Shut-in","Bleed-off"], "range": ["#000000","#ff0000","#0000ff","#ff00ff","#ff0000"]}, "legend": null},
  "strokeDash": {"field": "s", "type": "nominal", "scale": {"domain": ["1st SPT","5th SPT","6th SPT","Shut-in","Bleed-off"], "range": [[1,0],[1,0],[1,0],[1,0],[6,4]]}, "legend": null}}},
 {"data": {"name": "vh"}, "mark": {"type": "rule", "strokeWidth": 1.6}, "encoding": {
  "x": {"field": "t", "type": "quantitative"},
  "color": {"field": "s", "type": "nominal", "scale": {"domain": ["1st SPT","5th SPT","6th SPT","Shut-in","Bleed-off"], "range": ["#000000","#ff0000","#0000ff","#ff00ff","#ff0000"]}, "legend": null},
  "strokeDash": {"field": "s", "type": "nominal", "scale": {"domain": ["1st SPT","5th SPT","6th SPT","Shut-in","Bleed-off"], "range": [[1,0],[1,0],[1,0],[1,0],[6,4]]}, "legend": null}}}
]},
{"title": {"text": "l) MB5-1 close-up", "offset": -11}, "width": 522, "height": 262, "layer": [
 {"data": {"name": "l"}, "mark": {"type": "line", "strokeWidth": 2.8, "clip": true}, "encoding": {
  "x": {"field": "t", "type": "quantitative", "scale": {"domain": [0, 30], "nice": false}, "axis": {"values": [0, 10, 20, 30], "labelExpr": "'04:' + (20 + datum.value) + ':00'", "title": null}},
  "y": {"field": "v", "type": "quantitative", "scale": {"domain": [0, 0.02], "nice": false}, "axis": {"values": [0, 0.005, 0.01, 0.015, 0.02], "title": "Pressure [MPa]"}},
  "color": {"field": "s", "type": "nominal", "scale": {"domain": ["1st SPT","5th SPT","6th SPT","Shut-in","Bleed-off"], "range": ["#000000","#ff0000","#0000ff","#ff00ff","#ff0000"]}, "legend": null},
  "strokeDash": {"field": "s", "type": "nominal", "scale": {"domain": ["1st SPT","5th SPT","6th SPT","Shut-in","Bleed-off"], "range": [[1,0],[1,0],[1,0],[1,0],[6,4]]}, "legend": null}}},
 {"data": {"name": "vm"}, "mark": {"type": "rule", "strokeWidth": 1.6}, "encoding": {
  "x": {"field": "t", "type": "quantitative"},
  "color": {"field": "s", "type": "nominal", "scale": {"domain": ["1st SPT","5th SPT","6th SPT","Shut-in","Bleed-off"], "range": ["#000000","#ff0000","#0000ff","#ff00ff","#ff0000"]}, "legend": null},
  "strokeDash": {"field": "s", "type": "nominal", "scale": {"domain": ["1st SPT","5th SPT","6th SPT","Shut-in","Bleed-off"], "range": [[1,0],[1,0],[1,0],[1,0],[6,4]]}, "legend": null}}}
]}
]
}
